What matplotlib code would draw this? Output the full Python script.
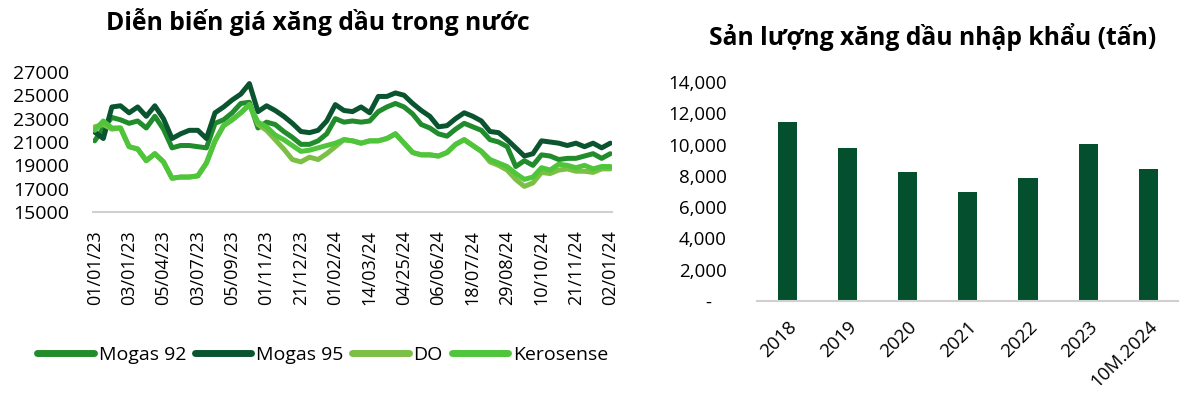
import numpy as np
import matplotlib
matplotlib.use("Agg")
import matplotlib.pyplot as plt
import matplotlib.ticker as ticker

plt.rcParams['font.family'] = ['Open Sans', 'DejaVu Sans']

# --- left chart: domestic fuel prices (VND/litre), sampled along the line
date_labels = ["01/01/23", "03/01/23", "05/04/23", "03/07/23", "05/09/23", "01/11/23",
               "21/12/23", "01/02/24", "14/03/24", "04/25/24", "06/06/24", "18/07/24",
               "29/08/24", "10/10/24", "21/11/24", "02/01/24"]
price_ticks = [15000, 17000, 19000, 21000, 23000, 25000, 27000]

mogas92 = [21100, 22200, 23100, 22900, 22600, 22800, 22200, 23200, 22100, 20500,
           20700, 20700, 20600, 20500, 22600, 22900, 23500, 24300, 24400, 22200,
           22700, 22500, 21900, 21400, 20800, 20800, 21100, 21700, 23000, 22700,
           22800, 22700, 22800, 23600, 24000, 24300, 24000, 23400, 22500, 22200,
           21700, 21500, 22100, 22600, 22300, 22000, 21200, 21000, 20600, 18900,
           19400, 19000, 19900, 19800, 19500, 19600, 19600, 19800, 20000, 19600,
           20000]
mogas95 = [21850, 21300, 24000, 24100, 23500, 24000, 23200, 24100, 23000, 21300,
           21700, 22000, 22000, 21300, 23500, 24000, 24600, 25100, 26000, 23600,
           24100, 23700, 23200, 22600, 21900, 21800, 22000, 22800, 24200, 23700,
           23600, 24000, 23500, 24900, 24900, 25200, 25000, 24300, 23700, 23200,
           22300, 22400, 23000, 23500, 23200, 22800, 21900, 21800, 21200, 20500,
           19800, 20000, 21100, 21000, 20900, 20700, 20900, 20600, 20900, 20500,
           20900]
do_oil = [22300, 22500, 22100, 22200, 20600, 20400, 19400, 20000, 19300, 17900,
          18000, 18000, 18100, 19200, 21100, 22400, 22900, 23500, 24200, 22500,
          22000, 21200, 20400, 19500, 19300, 19700, 19500, 20000, 20600, 21200,
          21100, 20900, 21100, 21100, 21300, 21700, 20900, 20100, 19900, 19900,
          19800, 20100, 20800, 21200, 20700, 20200, 19300, 19000, 18600, 17800,
          17200, 17500, 18400, 18300, 18600, 18700, 18500, 18500, 18400, 18700,
          18700]
kerosene = [22000, 22800, 22200, 22200, 20600, 20400, 19400, 20000, 19300, 17900,
            18000, 18000, 18100, 19200, 21100, 22400, 22900, 23500, 24200, 22700,
            22300, 21600, 21200, 20700, 20200, 20300, 20500, 20700, 20900, 21200,
            21100, 20900, 21100, 21100, 21300, 21700, 20900, 20100, 19900, 19900,
            19800, 20100, 20800, 21200, 20700, 20200, 19500, 19200, 18900, 18300,
            17800, 18000, 18800, 18600, 19100, 19000, 18800, 19000, 18700, 18900,
            18900]

# --- right chart: imported volume (tonnes)
years = ["2018", "2019", "2020", "2021", "2022", "2023", "10M.2024"]
volume = [11450, 9800, 8230, 6950, 7880, 10050, 8450]

fig = plt.figure(figsize=(12, 4.04), dpi=100)

# left panel
ax1 = fig.add_axes([0.0775, 0.475, 0.4325, 0.347])
x = np.arange(len(mogas92))
series = [("Mogas 92", mogas92, "#218c2b"),
          ("Mogas 95", mogas95, "#0a5530"),
          ("DO", do_oil, "#7bbf45"),
          ("Kerosense", kerosene, "#4ec53a")]
for name, vals, col in series:
    ax1.plot(x, vals, color=col, lw=3.6, label=name, solid_capstyle='round')
ax1.set_ylim(15000, 27000)
ax1.set_xlim(-0.2, 60.2)
ax1.set_yticks(price_ticks)
ax1.set_xticks(np.arange(0, 61, 4))
ax1.set_xticklabels(date_labels, rotation=90, fontsize=13)
ax1.tick_params(axis='x', length=0, pad=13)
ax1.tick_params(axis='y', length=0, labelsize=14, pad=17)
for s in ['top', 'right', 'left']:
    ax1.spines[s].set_visible(False)
ax1.spines['bottom'].set_color('#d0d0d0')
ax1.spines['bottom'].set_linewidth(1.5)
fig.text(0.265, 0.945, "Diễn biến giá xăng dầu trong nước", ha='center', va='center',
         fontsize=17.8, fontweight='bold')
leg = fig.legend(loc='center', bbox_to_anchor=(0.269, 0.121), ncol=4, frameon=False,
                 fontsize=14, handlelength=2.9, handletextpad=0.25, columnspacing=0.45)
for h in leg.get_lines():
    h.set_linewidth(5)

# right panel
ax2 = fig.add_axes([0.631, 0.255, 0.351, 0.542])
xb = np.arange(len(years))
ax2.bar(xb, volume, width=0.32, color="#04502e")
ax2.set_xlim(-0.5, len(years) - 0.5)
ax2.set_ylim(0, 14000)
ax2.yaxis.set_major_locator(ticker.MultipleLocator(2000))
ax2.yaxis.set_major_formatter(ticker.FuncFormatter(
    lambda v, p: "-   " if v == 0 else f"{int(v):,}"))
ax2.set_xticks(xb)
ax2.set_xticklabels(years, rotation=45, ha='right', rotation_mode='anchor', fontsize=13.5)
ax2.tick_params(axis='x', length=0, pad=12)
ax2.tick_params(axis='y', length=0, labelsize=13.5, pad=22)
for s in ['top', 'right', 'left']:
    ax2.spines[s].set_visible(False)
ax2.spines['bottom'].set_color('#d0d0d0')
ax2.spines['bottom'].set_linewidth(1.5)
fig.text(0.777, 0.908, "Sản lượng xăng dầu nhập khẩu (tấn)", ha='center', va='center',
         fontsize=17.8, fontweight='bold')

fig.savefig("out.png", dpi=100)
